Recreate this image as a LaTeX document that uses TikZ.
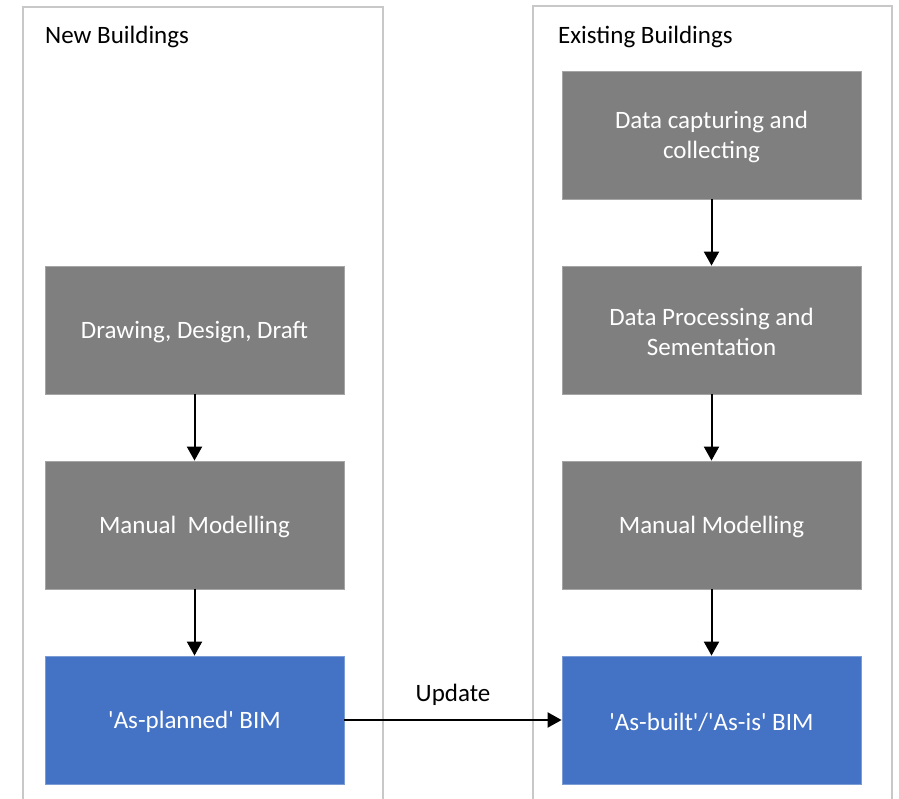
\documentclass[tikz,border=0pt]{standalone}
\usepackage{fontspec}
\setmainfont{Carlito}
\newfontfamily\calfont{Carlito}
\usetikzlibrary{arrows.meta}
\definecolor{boxgray}{HTML}{7F7F7F}
\definecolor{boxblue}{HTML}{4472C4}
\definecolor{panelline}{HTML}{C8C8C8}
\newcommand{\lowertext}[1]{\raisebox{-2pt}[\height][\depth]{#1}}
\begin{document}
\begin{tikzpicture}[x=1pt,y=-1pt,
  panel/.style={draw=panelline,line width=1.2pt},
  txt/.style={font=\calfont\fontsize{25}{30}\selectfont},
  procbox/.style={txt,fill=boxgray,draw=boxgray!70!white,line width=0.8pt,minimum width=299pt,minimum height=128pt,text=white,align=center,inner sep=0pt},
  bimbox/.style={procbox,fill=boxblue,draw=boxblue!70!white},
  label/.style={txt,anchor=west,inner sep=0pt},
  flow/.style={-{Triangle[length=14pt,width=15pt]},line width=2pt}]
\clip (0,0) rectangle (899,799);
\fill[white] (0,0) rectangle (899,799);
\draw[panel] (23,820) -- (23,7) -- (383,7) -- (383,820);
\draw[panel] (533,820) -- (533,6) -- (892,6) -- (892,820);
\node[label] (tnew) at (45,37) {New Buildings};
\node[label] (texist) at (558,37) {Existing Buildings};
\node[procbox] (a1) at (194.5,330) {\lowertext{Drawing, Design, Draft}};
\node[procbox] (a2) at (194.5,525) {\lowertext{Manual\ \ Modelling}};
\node[bimbox] (a3) at (194.5,720) {\lowertext{'As-planned' BIM}};
\node[procbox] (b0) at (711.5,135) {\lowertext{Data capturing and}\\\lowertext{collecting}};
\node[procbox] (b1) at (711.5,330) {\lowertext{Data Processing and}\\\lowertext{Sementation}};
\node[procbox] (b2) at (711.5,525) {\lowertext{Manual Modelling}};
\node[bimbox] (b3) at (711.5,720) {\lowertext{'As-built'/'As-is' BIM}};
\draw[flow] (a1) -- (a2);
\draw[flow] (a2) -- (a3);
\draw[flow] (b0) -- (b1);
\draw[flow] (b1) -- (b2);
\draw[flow] (b2) -- (b3);
\draw[flow] (a3) -- node[txt,above=13pt,inner sep=0pt] (upd) {Update} (b3);
\end{tikzpicture}
\end{document}
